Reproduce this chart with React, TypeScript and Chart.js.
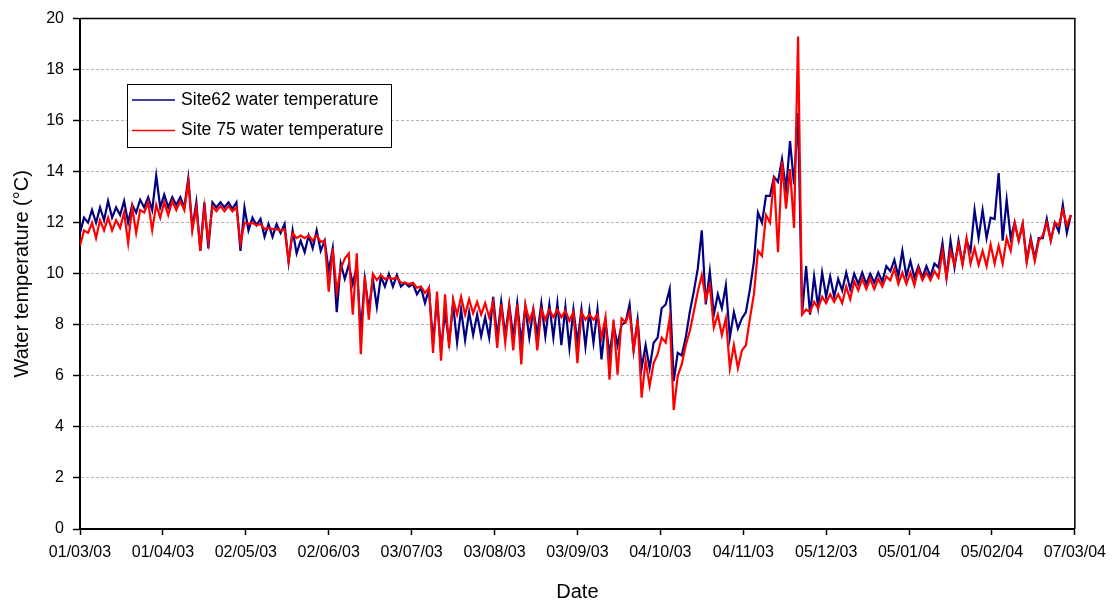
import React, { useEffect, useRef } from "react";
import { Chart, registerables } from "chart.js";

Chart.register(...registerables);

// Date axis: day 0 = 01/03/03, one labelled tick every 31 days
const tickLabels = [
  "01/03/03", "01/04/03", "02/05/03", "02/06/03", "03/07/03", "03/08/03", "03/09/03",
  "04/10/03", "04/11/03", "05/12/03", "05/01/04", "05/02/04", "07/03/04",
];
const tickStepDays = 31;
const binDays = 3;

// Logged temperatures summarised as low / high per 3-day bin (°C)
const site62Low = [
  11.6, 12.0, 12.0, 12.1, 12.2, 12.3, 12.0, 12.4, 12.6, 12.5,
  12.6, 12.6, 12.7, 12.6, 11.8, 10.9, 11.0, 12.6, 12.6, 12.55,
  10.9, 11.7, 11.9, 11.45, 11.45, 11.6, 10.45, 10.8, 10.85, 11.0,
  10.9, 10.1, 8.5, 9.8, 9.6, 7.75, 8.6, 8.7, 9.5, 9.5,
  9.5, 9.5, 9.2, 8.85, 7.3, 7.0, 7.3, 7.3, 7.4, 7.6,
  7.55, 7.5, 7.5, 7.6, 7.5, 7.3, 7.5, 7.6, 7.55, 7.5,
  7.2, 7.1, 7.3, 7.15, 7.3, 6.65, 6.8, 7.2, 8.1, 7.0,
  6.3, 6.3, 7.5, 8.8, 5.8, 6.8, 8.5, 10.2, 8.8, 8.4,
  8.65, 7.5, 7.85, 8.5, 10.5, 12.0, 13.05, 13.6, 13.3, 13.5,
  8.4, 8.4, 8.7, 9.1, 9.1, 9.35, 9.4, 9.6, 9.6, 9.65,
  9.7, 10.1, 9.9, 9.9, 9.85, 9.85, 9.9, 10.25, 9.85, 10.25,
  10.4, 10.9, 11.4, 11.4, 12.15, 11.3, 11.4, 11.3, 10.5, 10.6,
  11.4, 11.3, 11.65, 11.6,
];
const site62High = [
  12.2, 12.5, 12.6, 12.85, 12.6, 12.85, 12.7, 12.9, 13.0, 13.85,
  13.1, 13.0, 13.0, 13.75, 12.8, 12.8, 12.8, 12.8, 12.8, 12.8,
  12.6, 12.2, 12.15, 11.95, 11.95, 11.95, 11.7, 11.3, 11.5, 11.7,
  11.3, 11.0, 10.4, 10.35, 10.3, 9.8, 9.8, 9.9, 10.0, 9.95,
  9.65, 9.6, 9.45, 9.4, 9.0, 8.5, 8.8, 8.6, 8.5, 8.4,
  8.3, 9.1, 8.9, 8.8, 8.85, 8.7, 8.6, 8.85, 8.8, 8.85,
  8.7, 8.6, 8.6, 8.55, 8.6, 8.15, 8.0, 8.0, 8.8, 8.2,
  7.2, 7.3, 8.65, 9.4, 6.9, 7.5, 9.3, 11.7, 10.1, 9.2,
  9.55, 8.5, 8.25, 9.4, 12.4, 13.05, 13.8, 14.5, 15.2, 16.3,
  10.3, 9.9, 10.05, 9.9, 9.8, 10.05, 10.0, 10.05, 10.0, 10.05,
  10.3, 10.55, 10.9, 10.5, 10.3, 10.3, 10.4, 11.2, 11.3, 11.3,
  11.3, 12.5, 12.5, 12.2, 13.95, 12.9, 12.0, 11.95, 11.4, 11.4,
  12.15, 12.0, 12.7, 12.3,
];
const site75Low = [
  11.1, 11.6, 11.4, 11.7, 11.7, 11.8, 11.2, 11.6, 12.4, 11.7,
  12.2, 12.3, 12.5, 12.5, 11.7, 10.9, 11.25, 12.45, 12.45, 12.45,
  11.2, 11.95, 11.9, 11.75, 11.75, 11.7, 10.5, 11.4, 11.4, 11.3,
  11.25, 9.3, 9.3, 10.6, 8.4, 6.85, 8.2, 9.75, 9.8, 9.8,
  9.65, 9.6, 9.45, 9.25, 6.9, 6.6, 7.1, 8.4, 8.4, 8.45,
  8.4, 8.3, 7.1, 7.3, 7.0, 6.45, 8.15, 7.0, 8.2, 8.3,
  8.3, 8.15, 6.5, 8.2, 8.2, 7.5, 5.85, 6.05, 8.1, 7.0,
  5.15, 5.6, 6.85, 7.3, 4.66, 6.45, 7.75, 9.3, 9.0, 7.9,
  7.6, 6.3, 6.3, 7.2, 9.2, 10.7, 12.0, 10.85, 12.55, 11.8,
  8.4, 8.5, 8.65, 8.85, 8.9, 8.85, 9.0, 9.35, 9.4, 9.4,
  9.5, 9.75, 9.6, 9.6, 9.55, 9.75, 9.75, 9.85, 9.85, 10.35,
  10.35, 10.4, 10.35, 10.3, 10.4, 10.4, 10.9, 11.3, 10.45, 10.5,
  11.5, 11.3, 11.9, 11.9,
];
const site75High = [
  11.7, 12.0, 12.1, 12.2, 12.1, 12.4, 12.6, 12.5, 12.8, 12.7,
  12.8, 12.85, 12.85, 13.6, 12.6, 12.6, 12.65, 12.65, 12.65, 12.6,
  12.0, 12.0, 11.95, 11.8, 11.75, 11.75, 11.6, 11.5, 11.5, 11.5,
  11.3, 11.0, 10.2, 10.8, 10.8, 9.9, 10.0, 9.95, 9.85, 9.85,
  9.65, 9.65, 9.5, 9.45, 9.3, 9.2, 9.0, 9.1, 9.0, 8.9,
  8.85, 8.9, 8.8, 8.7, 8.8, 8.8, 8.6, 8.6, 8.6, 8.6,
  8.55, 8.5, 8.5, 8.4, 8.4, 8.3, 8.2, 8.25, 8.5, 8.2,
  6.6, 6.5, 7.5, 8.25, 6.0, 7.2, 8.5, 9.95, 9.55, 8.4,
  8.25, 7.2, 7.0, 8.25, 10.9, 12.3, 13.8, 14.4, 14.1, 19.3,
  8.6, 8.9, 9.1, 9.2, 9.2, 9.5, 9.7, 9.8, 9.8, 9.8,
  9.9, 10.2, 10.05, 10.05, 10.2, 10.05, 10.1, 10.9, 10.9, 11.15,
  11.4, 11.0, 10.9, 11.15, 11.1, 11.4, 12.0, 11.95, 11.3, 11.3,
  12.0, 12.0, 12.5, 12.3,
];

const seriesNames = ["Site62 water temperature", "Site 75 water temperature"];
const seriesColors = ["#000080", "#ff0000"];

const FONT = "'Liberation Sans', Arial, Helvetica, sans-serif";

// Each bin becomes two points: its low, then its high half a bin later
function toPoints(lo: number[], hi: number[]) {
  const pts: { x: number; y: number }[] = [];
  lo.forEach((v, i) => {
    pts.push({ x: i * binDays, y: v });
    pts.push({ x: i * binDays + binDays / 2, y: hi[i] });
  });
  return pts;
}

// Boxed legend inside the plot, upper left
const boxLegend = {
  id: "boxLegend",
  afterDatasetsDraw(chart: any) {
    const { ctx } = chart;
    ctx.save();
    const bx = 127, by = 84, bw = 264, bh = 63;
    ctx.fillStyle = "#ffffff";
    ctx.fillRect(bx, by, bw, bh);
    ctx.strokeStyle = "#000000";
    ctx.lineWidth = 1;
    ctx.strokeRect(bx + 0.5, by + 0.5, bw, bh);
    chart.data.datasets.forEach((ds: any, i: number) => {
      const cy = 100 + i * 30.5;
      ctx.strokeStyle = ds.borderColor;
      ctx.lineWidth = 1.5;
      ctx.beginPath();
      ctx.moveTo(132, cy);
      ctx.lineTo(175, cy);
      ctx.stroke();
      ctx.fillStyle = "#000000";
      ctx.font = `17.6px ${FONT}`;
      ctx.textBaseline = "middle";
      ctx.textAlign = "left";
      ctx.fillText(ds.label, 181, cy);
    });
    ctx.restore();
  },
};

// Closes the plot frame on the top and right sides
const plotFrame = {
  id: "plotFrame",
  afterDraw(chart: any) {
    const { ctx, chartArea } = chart;
    ctx.save();
    ctx.strokeStyle = "#000000";
    ctx.lineWidth = 1.5;
    ctx.beginPath();
    ctx.moveTo(chartArea.left, chartArea.top);
    ctx.lineTo(chartArea.right, chartArea.top);
    ctx.lineTo(chartArea.right, chartArea.bottom);
    ctx.stroke();
    ctx.restore();
  },
};

export default function App() {
  const canvasRef = useRef<HTMLCanvasElement | null>(null);

  useEffect(() => {
    document.body.style.margin = "0";
    const canvas = canvasRef.current;
    if (!canvas) return;

    const chart = new Chart(canvas, {
      type: "line",
      data: {
        datasets: [
          {
            label: seriesNames[0],
            data: toPoints(site62Low, site62High),
            borderColor: seriesColors[0],
            backgroundColor: seriesColors[0],
            borderWidth: 2.2,
            pointRadius: 0,
            tension: 0,
            fill: false,
            order: 1,
          },
          {
            label: seriesNames[1],
            data: toPoints(site75Low, site75High),
            borderColor: seriesColors[1],
            backgroundColor: seriesColors[1],
            borderWidth: 2.2,
            pointRadius: 0,
            tension: 0,
            fill: false,
            order: 0,
          },
        ],
      },
      options: {
        animation: false,
        responsive: false,
        maintainAspectRatio: false,
        devicePixelRatio: 1,
        layout: { padding: { top: 14, right: 39, left: 0, bottom: 0 } },
        plugins: {
          legend: { display: false },
          tooltip: { enabled: false },
        },
        scales: {
          x: {
            type: "linear",
            min: 0,
            max: tickStepDays * (tickLabels.length - 1),
            afterBuildTicks: (scale: any) => {
              scale.ticks = tickLabels.map((_, i) => ({ value: i * tickStepDays }));
            },
            afterFit: (scale: any) => {
              scale.height = 75;
            },
            ticks: {
              autoSkip: false,
              maxRotation: 0,
              minRotation: 0,
              padding: 8,
              color: "#000000",
              font: { family: FONT, size: 16 },
              callback: (value: any) => tickLabels[Math.round(Number(value) / tickStepDays)],
            },
            grid: {
              drawOnChartArea: false,
              drawTicks: true,
              tickLength: 6,
              tickColor: "#000000",
              tickWidth: 1.5,
            },
            border: { color: "#000000", width: 2 },
            title: {
              display: true,
              text: "Date",
              color: "#000000",
              font: { family: FONT, size: 20 },
              padding: { top: 0, bottom: 0 },
            },
          },
          y: {
            min: 0,
            max: 20,
            afterFit: (scale: any) => {
              scale.width = 80;
            },
            ticks: {
              stepSize: 2,
              padding: 9,
              color: "#000000",
              font: { family: FONT, size: 16 },
            },
            grid: {
              color: "#b4b4b4",
              lineWidth: 1,
              drawTicks: true,
              tickLength: 7,
              tickColor: "#000000",
              tickWidth: 1.5,
            },
            border: { color: "#000000", width: 2, dash: [3, 2] },
            title: {
              display: true,
              text: "Water temperature (°C)",
              color: "#000000",
              font: { family: FONT, size: 20 },
              padding: { top: 10, bottom: 0 },
            },
          },
        },
      },
      plugins: [boxLegend, plotFrame],
    } as any);

    return () => chart.destroy();
  }, []);

  return (
    <div style={{ width: 1114, height: 604, position: "relative" }}>
      <canvas ref={canvasRef} width={1114} height={604} style={{ display: "block" }} />
    </div>
  );
}
